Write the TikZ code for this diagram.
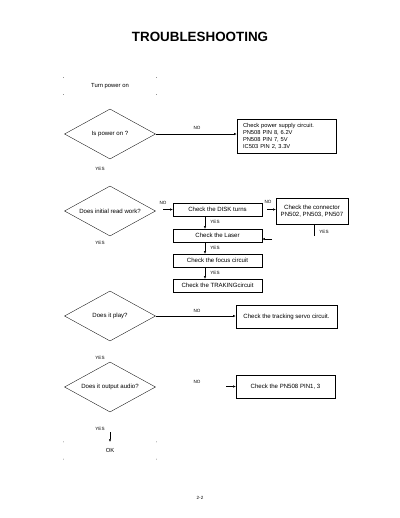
\documentclass[tikz,border=0pt]{standalone}
\usepackage{fontspec}
\setmainfont{Liberation Sans}
\usepackage{tikz}
\usetikzlibrary{arrows.meta,positioning,calc,shapes.geometric}

\newlength\pxu
\setlength\pxu{1.53pt}

\tikzset{
  decision/.style={diamond, draw, line width=0.5pt, inner sep=0pt, aspect=2,
    minimum width=91\pxu, minimum height=50\pxu, font=\fontsize{9.3}{10}\selectfont},
  checkbox/.style={draw, line width=0.6pt, inner sep=0pt, align=center,
    minimum width=89\pxu, minimum height=13\pxu, font=\fontsize{9.3}{10}\selectfont},
  terminal/.style={inner sep=0pt, minimum width=93\pxu, minimum height=17\pxu,
    font=\fontsize{9}{10}\selectfont},
  yesno/.style={inner sep=0pt, font=\fontsize{7}{8}\selectfont},
  flow/.style={line width=1pt, -{Latex[length=4pt,width=3.5pt]}},
  stub/.style={line width=0.6pt, -{Latex[length=4pt,width=3.5pt]}},
}

\begin{document}
\begin{tikzpicture}[x=1.53pt, y=-1.53pt]
  \useasboundingbox (0,0) rectangle (400,518);

  \node[font=\bfseries\fontsize{20.5}{22}\selectfont] (title) at (200,37) {TROUBLESHOOTING};

  % start / end
  \node[terminal] (start) at (110,86) {Turn power on};
  \node[terminal] (ok) at (110,450.5) {OK};
  \foreach \n in {start,ok}
    \foreach \a in {north west,north east,south west,south east}
      \fill (\n.\a) circle (0.5pt);
  \coordinate (okin) at (110,432);
  \draw[stub] (okin) -- (ok.north);

  % power
  \node[decision] (d1) at (110,134) {Is power on ?};
  \node[checkbox, text width=87\pxu, inner xsep=6\pxu, minimum height=34\pxu, align=left,
    font=\fontsize{8.8}{10.7}\selectfont] (b1) at (286.5,136)
    {Check power supply circuit.\\PN508 PIN 8, 6.2V\\PN508 PIN 7, 5V\\IC503 PIN 2, 3.3V};
  \draw[flow] (d1.east) -- (d1.east -| b1.west);
  \node[yesno] (n1) at (197,128) {NO};
  \node[yesno] (y1) at (100,169) {YES};

  % read
  \node[decision] (d2) at (110,211) {Does initial read work?};
  \node[checkbox] (disk) at (217.5,209.5) {Check the DISK turns};
  \node[checkbox, minimum width=72\pxu, minimum height=26\pxu] (conn) at (312,211)
    {Check the connector\\PN502, PN503, PN507};
  \node[checkbox] (laser) at (217.5,235.5) {Check the Laser};
  \node[checkbox] (focus) at (217.5,260.5) {Check the focus circuit};
  \node[checkbox] (trak) at (217.5,285.5) {Check the TRAKINGcircuit};
  \coordinate (diskin) at (163,209.5);
  \coordinate (connin) at (267,209.5);
  \coordinate (connout) at (314,236);
  \coordinate (laserin) at (272,239);
  \coordinate (ax) at (205,0);
  \draw[stub] (diskin) -- (diskin -| disk.west);
  \draw[stub] (connin) -- (connin -| conn.west);
  \draw[line width=0.6pt] (conn.south -| connout) -- (connout);
  \draw[stub] (laserin) -- (laserin -| laser.east);
  \draw[stub] (disk.south -| ax) -- (laser.north -| ax);
  \draw[stub] (laser.south -| ax) -- (focus.north -| ax);
  \draw[stub] (focus.south -| ax) -- (trak.north -| ax);
  \node[yesno] (n2) at (163,203) {NO};
  \node[yesno] (n3) at (268,202) {NO};
  \node[yesno] (y3) at (324,232) {YES};
  \node[yesno] (y4) at (215,222) {YES};
  \node[yesno] (y5) at (215,248) {YES};
  \node[yesno] (y6) at (215,273) {YES};
  \node[yesno] (y2) at (100,243) {YES};

  % play
  \node[decision] (d3) at (110,316) {Does it play?};
  \node[checkbox, minimum width=101\pxu, minimum height=23\pxu] (b3) at (286.5,316.5)
    {Check the tracking servo circuit.};
  \draw[flow] (d3.east) -- (d3.east -| b3.west);
  \node[yesno] (n4) at (197,311) {NO};
  \node[yesno] (y7) at (100,358) {YES};

  % audio
  \node[decision] (d4) at (110,387) {Does it output audio?};
  \node[checkbox, minimum width=99\pxu, minimum height=23\pxu] (b4) at (285.5,386.5)
    {Check the PN508 PIN1, 3};
  \coordinate (b4in) at (226,386.5);
  \draw[stub] (b4in) -- (b4.west);
  \node[yesno] (n5) at (197,382) {NO};
  \node[yesno] (y8) at (100,429) {YES};

  \node[yesno, font=\fontsize{7}{8}\selectfont] (page) at (200,498) {2-2};
\end{tikzpicture}
\end{document}
